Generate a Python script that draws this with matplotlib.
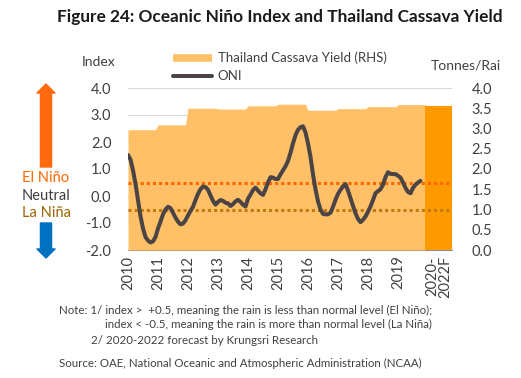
import numpy as np
import matplotlib.pyplot as plt
from matplotlib.lines import Line2D

plt.rcParams['font.family'] = ['Lato', 'DejaVu Sans']

# ---------------------------
# Data
# ---------------------------
years = list(range(2010, 2020))
year_labels = [str(y) for y in years]
cassava_yield = [2.97, 3.09, 3.50, 3.48, 3.56, 3.60, 3.45, 3.49, 3.54, 3.59]  # tonnes/rai
forecast_label = "2020-\n2022F"
forecast_yield = 3.56

# monthly ONI (Jan 2010 - Oct 2019)
oni_2010 = [1.52, 1.35, 0.95, 0.45, -0.15, -0.75, -1.20, -1.52, -1.65, -1.72, -1.68, -1.52]
oni_2011 = [-1.20, -0.95, -0.68, -0.50, -0.40, -0.45, -0.62, -0.80, -0.95, -1.05, -1.02, -0.90]
oni_2012 = [-0.72, -0.55, -0.40, -0.15, 0.08, 0.25, 0.35, 0.33, 0.23, 0.02, -0.18, -0.32]
oni_2013 = [-0.22, -0.15, -0.18, -0.25, -0.27, -0.37, -0.30, -0.20, -0.14, -0.22, -0.32, -0.39]
oni_2014 = [-0.10, 0.05, 0.22, 0.31, 0.20, 0.10, 0.04, 0.25, 0.50, 0.70, 0.68, 0.63]
oni_2015 = [0.63, 0.80, 0.95, 1.10, 1.30, 1.60, 1.95, 2.25, 2.45, 2.55, 2.58, 2.35]
oni_2016 = [1.95, 1.45, 0.80, 0.25, -0.20, -0.50, -0.66, -0.68, -0.68, -0.62, -0.40, -0.14]
oni_2017 = [0.08, 0.23, 0.36, 0.44, 0.20, -0.08, -0.36, -0.64, -0.85, -0.97, -0.88, -0.76]
oni_2018 = [-0.58, -0.39, -0.15, 0.10, 0.18, 0.25, 0.42, 0.70, 0.88, 0.82, 0.81, 0.81]
oni_2019 = [0.75, 0.68, 0.50, 0.30, 0.15, 0.10, 0.30, 0.42, 0.50, 0.56]

el_nino_level = 0.5
la_nina_level = -0.5

oni = oni_2010 + oni_2011 + oni_2012 + oni_2013 + oni_2014 + oni_2015 + oni_2016 + oni_2017 + oni_2018 + oni_2019
t_oni = 2010 + np.arange(len(oni)) / 12
yield_monthly = np.repeat(cassava_yield, 12)
t_yield = 2010 + np.arange(len(yield_monthly)) / 12
forecast_pos = 2020.35

# ---------------------------
# Figure
# ---------------------------
fig = plt.figure(figsize=(5.21, 3.78), dpi=100)
rect = [128 / 521, 1 - 250 / 378, 324 / 521, 162 / 378]

ax = fig.add_axes(rect)           # left axis + gridlines
ax2 = ax.twinx()                  # right axis: cassava yield
ax3 = fig.add_axes(rect, sharex=ax, sharey=ax)  # ONI on top
ax3.patch.set_visible(False)
ax3.axis('off')

txt = '#404040'

ax.set_ylim(-2, 4)
ax.set_yticks(np.arange(-2, 4.01, 1))
ax.set_yticklabels([f"{v:.1f}" for v in np.arange(-2, 4.01, 1)])
ax.grid(axis='y', color='#d9d9d9', lw=0.8)
ax.set_xlim(2010, 2020.8)
ax.set_xticks(years + [forecast_pos])
ax.set_xticklabels(year_labels + [forecast_label], rotation=90, va='top', ha='center', linespacing=0.9)
ax.get_xticklabels()[-1].set_color('#FF6600')
ax.tick_params(axis='y', length=0, pad=12, labelsize=10.5, labelcolor=txt)
ax.tick_params(axis='x', length=0, pad=4, labelsize=10.5, labelcolor=txt)
for s in ['top', 'right', 'left']:
    ax.spines[s].set_visible(False)
ax.spines['bottom'].set_color('#8c8c8c')

ax2.set_ylim(0, 4)
ax2.set_yticks(np.arange(0, 4.01, 0.5))
ax2.set_yticklabels([f"{v:.1f}" for v in np.arange(0, 4.01, 0.5)])
ax2.tick_params(axis='y', length=0, pad=14, labelsize=10.5, labelcolor=txt)
for s in ['top', 'right', 'left', 'bottom']:
    ax2.spines[s].set_visible(False)

ax2.fill_between(t_yield, 0, yield_monthly, color='#FFC067', lw=0)
ax2.bar(forecast_pos, forecast_yield, width=0.87, color='#FF9900')

ax3.axhline(el_nino_level, color='#FF6600', lw=2.2, ls=(0, (1, 1)))
ax3.axhline(la_nina_level, color='#C07A10', lw=2.2, ls=(0, (1, 1)))
ax3.plot(t_oni, oni, color='#4a4445', lw=2.9, solid_capstyle='round')

# ---------------------------
# Texts
# ---------------------------
fig.text(279.5 / 521, 1 - 17 / 378, "Figure 24: Oceanic Niño Index and Thailand Cassava Yield",
         ha='center', va='center', fontsize=12.4, fontweight='bold', color='#1a1a1a')
fig.text(99 / 521, 1 - 62 / 378, "Index", ha='center', va='center', fontsize=10, color=txt)
fig.text(466 / 521, 1 - 65 / 378, "Tonnes/Rai", ha='center', va='center', fontsize=10, color=txt)

handles = [Line2D([], [], color='#FFC067', lw=5.5, solid_capstyle='butt'),
           Line2D([], [], color='#4a4445', lw=2.9, solid_capstyle='round')]
fig.legend(handles, ["Thailand Cassava Yield (RHS)", "ONI"], loc='upper left',
           bbox_to_anchor=(161 / 521, 1 - 40 / 378), frameon=False, fontsize=9.5,
           handlelength=3.0, handletextpad=0.4, labelspacing=0.45, labelcolor=txt)

# El Nino / La Nina arrows
ax.annotate('', xy=(46, 378 - 84), xytext=(46, 378 - 167), xycoords='figure pixels',
            arrowprops=dict(arrowstyle='simple,head_length=0.65,head_width=1.3,tail_width=0.8',
                            color='#FF6A10', shrinkA=0, shrinkB=0, mutation_scale=10))
ax.annotate('', xy=(46, 378 - 258), xytext=(46, 378 - 223), xycoords='figure pixels',
            arrowprops=dict(arrowstyle='simple,head_length=0.65,head_width=1.3,tail_width=0.8',
                            color='#0070C0', shrinkA=0, shrinkB=0, mutation_scale=10))
fig.text(46 / 521, 1 - 178 / 378, "El Niño", ha='center', va='center', fontsize=10.5, color='#FF6600')
fig.text(46 / 521, 1 - 196 / 378, "Neutral", ha='center', va='center', fontsize=10.5, color='#404040')
fig.text(46 / 521, 1 - 213 / 378, "La Niña", ha='center', va='center', fontsize=10.5, color='#9C6500')

# Notes
note_size = 8.3
fig.text(59 / 521, 1 - 310 / 378, "Note: 1/ index >  +0.5, meaning the rain is less than normal level (El Niño);",
         va='center', fontsize=note_size, color=txt)
fig.text(105 / 521, 1 - 324 / 378, "index < -0.5, meaning the rain is more than normal level (La Niña)",
         va='center', fontsize=note_size, color=txt)
fig.text(91 / 521, 1 - 341 / 378, "2/ 2020-2022 forecast by Krungsri Research",
         va='center', fontsize=note_size, color=txt)
fig.text(59 / 521, 1 - 363 / 378, "Source: OAE, National Oceanic and Atmospheric Administration (NCAA)",
         va='center', fontsize=note_size, color=txt)

fig.savefig("out.png", dpi=100)
